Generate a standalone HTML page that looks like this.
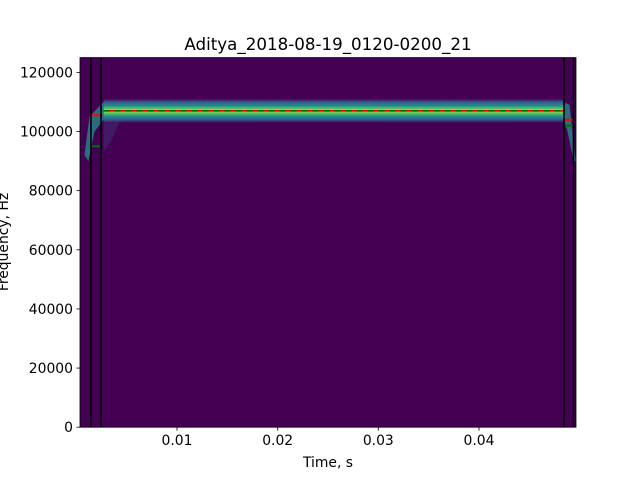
<!DOCTYPE html>
<html><head><meta charset="utf-8"><style>
body{margin:0;background:#fff;font-family:"Liberation Sans","DejaVu Sans",sans-serif}
svg text{font-family:"DejaVu Sans","Liberation Sans",sans-serif;font-size:13.9px;fill:#000}
</style></head><body>
<svg width="640" height="480" viewBox="0 0 640 480">
<defs>
<linearGradient id="band" x1="0" y1="0" x2="0" y2="1">
<stop offset="0" stop-color="#440154" stop-opacity="0"/>
<stop offset="0.15" stop-color="#3b528b"/>
<stop offset="0.32" stop-color="#21918c"/>
<stop offset="0.42" stop-color="#5ec962"/>
<stop offset="0.5" stop-color="#c8e020"/>
<stop offset="0.58" stop-color="#5ec962"/>
<stop offset="0.7" stop-color="#21918c"/>
<stop offset="0.85" stop-color="#3b528b"/>
<stop offset="1" stop-color="#440154" stop-opacity="0"/>
</linearGradient>
<clipPath id="clip"><rect x="80" y="57.6" width="496" height="369.6"/></clipPath>
</defs>
<text x="328" y="50" text-anchor="middle" style="font-size:16.7px">Aditya_2018-08-19_0120-0200_21</text>
<rect x="80" y="57.6" width="496" height="369.6" fill="#440154"/>
<g id="marks" clip-path="url(#clip)"></g>
<rect x="80" y="57.6" width="496" height="369.6" fill="none" stroke="#000" stroke-width="0.8"/>
<g id="axes"></g>
<text x="328" y="467" text-anchor="middle">Time, s</text>
<text transform="translate(8,242) rotate(-90)" text-anchor="middle">Frequency, Hz</text>
</svg>
<script>
const xTicks=[0.01,0.02,0.03,0.04];
const xTickLabels=["0.01","0.02","0.03","0.04"];
const yTicks=[0,20000,40000,60000,80000,100000,120000];
const yTickLabels=["0","20000","40000","60000","80000","100000","120000"];
const callStart=0.0027, callEnd=0.0484;
const ridgeFreq=107000;
const boundaryTimes=[0.00145,0.00245,0.04845,0.04939];
const startMarkFreqs=[105500,95000];
const endMarkFreqs=[104000,102000];
const X0=80,X1=576,Y0=427.2,Y1=57.6,xmin=0.00036,xmax=0.04964,ymin=0,ymax=125000;
const sx=t=>X0+(t-xmin)/(xmax-xmin)*(X1-X0);
const sy=f=>Y0-(f-ymin)/(ymax-ymin)*(Y0-Y1);
const NS='http://www.w3.org/2000/svg';
function mk(tag,attrs,parent){const e=document.createElementNS(NS,tag);for(const k in attrs)e.setAttribute(k,attrs[k]);parent.appendChild(e);return e;}
const marks=document.getElementById('marks'),axes=document.getElementById('axes');
let s=mk('polygon',{points:[[sx(callStart),sy(ridgeFreq-2000)],[sx(0.0045),sy(ridgeFreq-2000)],[sx(0.0035),sy(97000)],[sx(callStart),sy(93000)]].map(p=>p.join(',')).join(' '),fill:'#3b528b',opacity:0.3},marks);


const band=mk('rect',{x:sx(callStart),y:sy(ridgeFreq+4500),width:sx(callEnd)-sx(callStart),height:sy(ridgeFreq-4500)-sy(ridgeFreq+4500),fill:'url(#band)'},marks);


const sw=mk('polygon',{points:[[sx(0.0008),sy(92000)],[sx(0.0013),sy(105000)],[sx(callStart),sy(ridgeFreq+3000)],[sx(callStart),sy(ridgeFreq-3000)],[sx(0.0018),sy(100000)],[sx(0.0012),sy(90000)]].map(p=>p.join(',')).join(' '),fill:'#21918c',opacity:0.75},marks);


const ew=mk('polygon',{points:[[sx(callEnd),sy(ridgeFreq+3000)],[sx(0.0490),sy(ridgeFreq+2000)],[sx(0.0496),sy(90000)],[sx(0.0494),sy(90000)],[sx(0.0488),sy(100000)],[sx(callEnd),sy(ridgeFreq-3000)]].map(p=>p.join(',')).join(' '),fill:'#21918c',opacity:0.75},marks);


const r1=mk('line',{x1:sx(callStart),x2:sx(callEnd),y1:sy(ridgeFreq),y2:sy(ridgeFreq),stroke:'#ff0000','stroke-width':1.6},marks);


const r2=mk('line',{x1:sx(callStart),x2:sx(callEnd),y1:sy(ridgeFreq),y2:sy(ridgeFreq),stroke:'#007000','stroke-width':1.6,'stroke-dasharray':'6,5'},marks);


[[boundaryTimes[0],boundaryTimes[1],startMarkFreqs],[boundaryTimes[2],boundaryTimes[3],endMarkFreqs]].forEach(([a,b,fs])=>{
 const m1=mk('line',{x1:sx(a),x2:sx(b),y1:sy(fs[0]),y2:sy(fs[0]),stroke:'#ff0000','stroke-width':2},marks);
 
 
 const m2=mk('line',{x1:sx(a),x2:sx(b),y1:sy(fs[1]),y2:sy(fs[1]),stroke:'#007000','stroke-width':2},marks);
 
 
});
boundaryTimes.forEach(t=>{
 const l=mk('line',{x1:sx(t),x2:sx(t),y1:Y1,y2:Y0,stroke:'#000','stroke-width':1.6},marks);
 
 
});
xTicks.forEach((t,i)=>{
 const x=sx(t);
 const tk=mk('line',{x1:x,x2:x,y1:Y0,y2:Y0+3.5,stroke:'#000','stroke-width':0.8},axes);
 
 
 const tx=mk('text',{x:x,y:Y0+18,'text-anchor':'middle'},axes);tx.textContent=xTickLabels[i];
 
 
});
yTicks.forEach((f,i)=>{
 const y=sy(f);
 const tk=mk('line',{x1:X0-3.5,x2:X0,y1:y,y2:y,stroke:'#000','stroke-width':0.8},axes);
 
 
 const tx=mk('text',{x:X0-7,y:y+5,'text-anchor':'end'},axes);tx.textContent=yTickLabels[i];
 
 
});
</script>
</body></html>
